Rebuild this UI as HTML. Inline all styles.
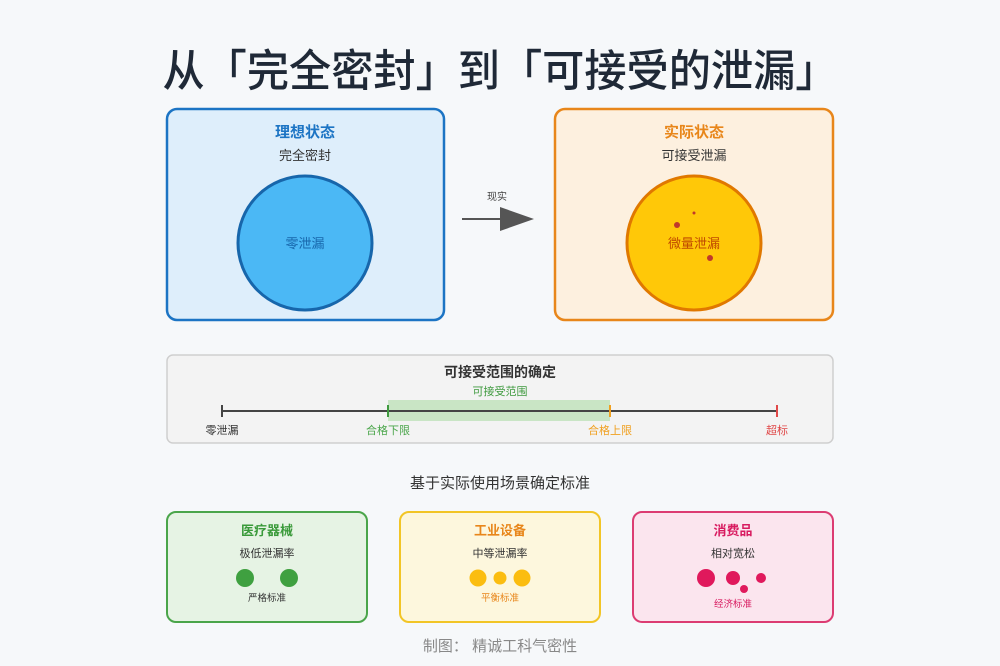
<!DOCTYPE html>
<html><head><meta charset="utf-8"><style>
html,body{margin:0;padding:0;background:#f6f8fa;}
svg{display:block;font-family:"Liberation Sans","Noto Sans CJK SC",sans-serif;}
</style></head><body>
<svg width="1000" height="666" viewBox="0 0 1000 666" xmlns="http://www.w3.org/2000/svg">
<rect width="1000" height="666" fill="#f6f8fa"/>
<text x="500" y="86" text-anchor="middle" font-size="44" font-weight="500" fill="#1f2937" textLength="675" lengthAdjust="spacingAndGlyphs">从「完全密封」到「可接受的泄漏」</text>

<rect x="167" y="109" width="277" height="211" rx="10" fill="#deeefb" stroke="#1c74c4" stroke-width="2.5"/>
<text x="305" y="137" text-anchor="middle" font-size="15" font-weight="bold" fill="#1c74c4">理想状态</text>
<text x="305" y="160" text-anchor="middle" font-size="13" fill="#333">完全密封</text>
<circle cx="305" cy="243" r="67" fill="#4bb8f5" stroke="#1766ab" stroke-width="3"/>
<text x="305" y="248" text-anchor="middle" font-size="13" fill="#1766ab">零泄漏</text>

<line x1="462" y1="219" x2="502" y2="219" stroke="#555" stroke-width="2"/>
<polygon points="500,207 534,219 500,231" fill="#555"/>
<text x="497" y="200" text-anchor="middle" font-size="10" fill="#444">现实</text>

<rect x="555" y="109" width="278" height="211" rx="10" fill="#fdf0df" stroke="#e8861a" stroke-width="2.5"/>
<text x="694" y="137" text-anchor="middle" font-size="15" font-weight="bold" fill="#e8861a">实际状态</text>
<text x="694" y="160" text-anchor="middle" font-size="13" fill="#333">可接受泄漏</text>
<circle cx="694" cy="243" r="67" fill="#ffc808" stroke="#e07800" stroke-width="3"/>
<circle cx="677" cy="225" r="3" fill="#c0392b"/>
<circle cx="694" cy="213" r="1.5" fill="#c0392b"/>
<circle cx="710" cy="258" r="3" fill="#c0392b"/>
<text x="694" y="248" text-anchor="middle" font-size="13" fill="#c04a00">微量泄漏</text>

<rect x="167" y="355" width="666" height="88" rx="6" fill="#f3f3f3" stroke="#cfcfcf" stroke-width="1.5"/>
<text x="500" y="377" text-anchor="middle" font-size="14" font-weight="bold" fill="#333">可接受范围的确定</text>
<text x="500" y="395" text-anchor="middle" font-size="11" fill="#3f9a3f">可接受范围</text>
<rect x="388" y="400" width="222" height="21" fill="#c9e5c5"/>
<line x1="222" y1="411" x2="777" y2="411" stroke="#444" stroke-width="2"/>
<line x1="222" y1="405" x2="222" y2="417" stroke="#444" stroke-width="2"/>
<line x1="388" y1="405" x2="388" y2="417" stroke="#3f9a3f" stroke-width="2"/>
<line x1="610" y1="405" x2="610" y2="417" stroke="#f0a020" stroke-width="2"/>
<line x1="777" y1="405" x2="777" y2="417" stroke="#e04848" stroke-width="2"/>
<text x="222" y="434" text-anchor="middle" font-size="11" fill="#333">零泄漏</text>
<text x="388" y="434" text-anchor="middle" font-size="11" fill="#4aa54a">合格下限</text>
<text x="610" y="434" text-anchor="middle" font-size="11" fill="#f0a020">合格上限</text>
<text x="777" y="434" text-anchor="middle" font-size="11" fill="#e04848">超标</text>

<text x="500" y="488" text-anchor="middle" font-size="15" fill="#333">基于实际使用场景确定标准</text>

<rect x="167" y="512" width="200" height="110" rx="9" fill="#e6f3e4" stroke="#4aa54a" stroke-width="2"/>
<text x="267" y="535" text-anchor="middle" font-size="13" font-weight="bold" fill="#3a9a3a">医疗器械</text>
<text x="267" y="557" text-anchor="middle" font-size="11" fill="#333">极低泄漏率</text>
<circle cx="245" cy="578" r="9" fill="#3fa040"/>
<circle cx="289" cy="578" r="9" fill="#3fa040"/>
<text x="267" y="601" text-anchor="middle" font-size="9.5" fill="#333">严格标准</text>

<rect x="400" y="512" width="200" height="110" rx="9" fill="#fdf7dd" stroke="#f2c526" stroke-width="2"/>
<text x="500" y="535" text-anchor="middle" font-size="13" font-weight="bold" fill="#e8861a">工业设备</text>
<text x="500" y="557" text-anchor="middle" font-size="11" fill="#333">中等泄漏率</text>
<circle cx="478" cy="578" r="8.5" fill="#fbbd10"/>
<circle cx="500" cy="578" r="6.5" fill="#fbbd10"/>
<circle cx="522" cy="578" r="8.5" fill="#fbbd10"/>
<text x="500" y="601" text-anchor="middle" font-size="9.5" fill="#e8861a">平衡标准</text>

<rect x="633" y="512" width="200" height="110" rx="9" fill="#fbe5ee" stroke="#dc3c72" stroke-width="2"/>
<text x="733" y="535" text-anchor="middle" font-size="13" font-weight="bold" fill="#d81b60">消费品</text>
<text x="733" y="557" text-anchor="middle" font-size="11" fill="#333">相对宽松</text>
<circle cx="706" cy="578" r="9" fill="#e0195c"/>
<circle cx="733" cy="578" r="7" fill="#e0195c"/>
<circle cx="744" cy="589" r="4" fill="#e0195c"/>
<circle cx="761" cy="578" r="5" fill="#e0195c"/>
<text x="733" y="607" text-anchor="middle" font-size="9.5" fill="#d81b60">经济标准</text>

<text x="500" y="651" text-anchor="middle" font-size="15" fill="#888">制图： 精诚工科气密性</text>
</svg>
</body></html>
